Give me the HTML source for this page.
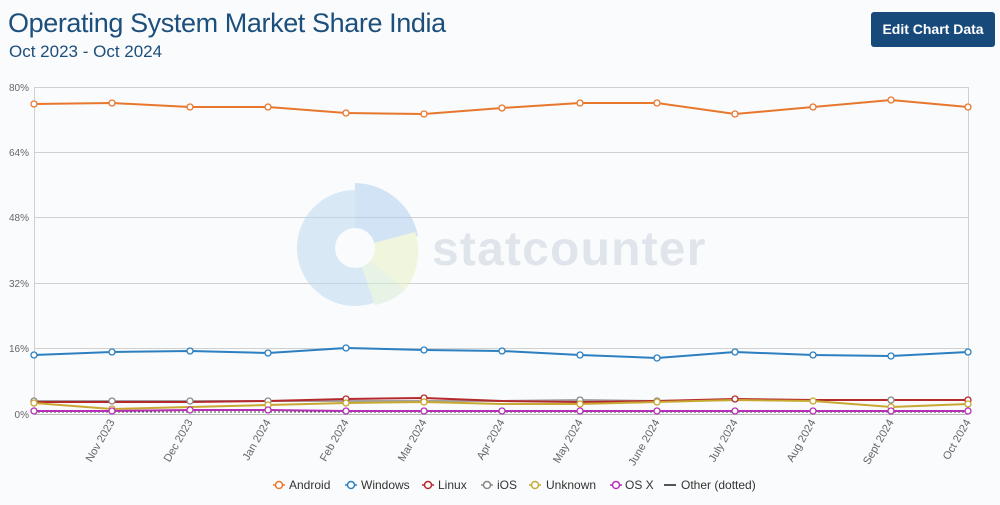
<!DOCTYPE html>
<html><head><meta charset="utf-8"><style>
html,body{margin:0;padding:0;background:#fafbfc;}
body{width:1000px;height:505px;position:relative;overflow:hidden;font-family:"Liberation Sans",sans-serif;}
.t1{position:absolute;left:8px;top:8px;font-size:27px;color:#1d4f7c;letter-spacing:-0.4px;}
.t2{position:absolute;left:9px;top:42px;font-size:17px;color:#1d4f7c;}
.btn{position:absolute;left:871px;top:12px;width:124px;height:35px;background:#174a7b;border-radius:3px;color:#fff;font-size:14px;font-weight:bold;text-align:center;line-height:35px;}
</style></head><body>
<div class="t1">Operating System Market Share India</div>
<div class="t2">Oct 2023 - Oct 2024</div>
<div class="btn">Edit Chart Data</div>
<svg width="1000" height="505" style="position:absolute;left:0;top:0" font-family="Liberation Sans, sans-serif">
<g stroke="#d0d0d0" stroke-width="1">
<line x1="34" x2="968" y1="87.5" y2="87.5"/><line x1="34" x2="968" y1="152.5" y2="152.5"/>
<line x1="34" x2="968" y1="217.5" y2="217.5"/><line x1="34" x2="968" y1="283.5" y2="283.5"/>
<line x1="34" x2="968" y1="348.5" y2="348.5"/>
<line x1="34.5" x2="34.5" y1="87" y2="414"/><line x1="968.5" x2="968.5" y1="87" y2="414"/>
</g>
<line x1="34" x2="968" y1="414.5" y2="414.5" stroke="#bbb"/>
<g fill="#666" font-size="10" text-anchor="end">
<text x="29" y="91">80%</text><text x="29" y="156">64%</text><text x="29" y="221">48%</text>
<text x="29" y="287">32%</text><text x="29" y="352">16%</text><text x="29" y="418">0%</text>
</g>
<g opacity="0.5">
<circle cx="355" cy="248" r="58" fill="#b9d6f0"/>
<path d="M355 248 L355 183 A65 65 0 0 1 418 236 Z" fill="#a9cdef"/>
<path d="M355 248 L415 232 A62 62 0 0 1 405 290 Z" fill="#e8f3c0"/>
<path d="M355 248 L405 290 A62 62 0 0 1 375 305 Z" fill="#d4ecd0"/>
<circle cx="355" cy="248" r="20" fill="#fafbfc"/>
<text x="432" y="265" font-size="48" font-weight="bold" fill="#c6d0dc" letter-spacing="1.2">statcounter</text>
</g>
<g fill="#666" font-size="11" text-anchor="end">
<text transform="translate(115,422) rotate(-60)">Nov 2023</text>
<text transform="translate(193,422) rotate(-60)">Dec 2023</text>
<text transform="translate(271,422) rotate(-60)">Jan 2024</text>
<text transform="translate(349,422) rotate(-60)">Feb 2024</text>
<text transform="translate(427,422) rotate(-60)">Mar 2024</text>
<text transform="translate(505,422) rotate(-60)">Apr 2024</text>
<text transform="translate(583,422) rotate(-60)">May 2024</text>
<text transform="translate(660,422) rotate(-60)">June 2024</text>
<text transform="translate(738,422) rotate(-60)">July 2024</text>
<text transform="translate(816,422) rotate(-60)">Aug 2024</text>
<text transform="translate(894,422) rotate(-60)">Sept 2024</text>
<text transform="translate(971,422) rotate(-60)">Oct 2024</text>
</g>
<line x1="34" x2="968" y1="412" y2="412" stroke="#444" stroke-width="1" stroke-dasharray="2,2"/>
<g fill="none" stroke-width="2">
<polyline stroke="#a0a0a0" points="34,401 112,401 190,401 268,401 346,401 424,401 502,401 580,400 657,401 735,400 813,400 891,400 968,400"/>
<polyline stroke="#b5282b" points="34,402 112,402 190,402 268,401 346,399 424,398 502,401 580,402 657,401 735,399 813,400 891,400 968,400"/>
<polyline stroke="#c9a832" points="34,403 112,409 190,407 268,405 346,403 424,402 502,404 580,404 657,402 735,400 813,401 891,407 968,404"/>
<polyline stroke="#b530b5" points="34,411 112,411 190,410 268,410 346,411 424,411 502,411 580,411 657,411 735,411 813,411 891,411 968,411"/>
<polyline stroke="#2c7fc0" points="34,355 112,352 190,351 268,353 346,348 424,350 502,351 580,355 657,358 735,352 813,355 891,356 968,352"/>
<polyline stroke="#e8772e" points="34,104 112,103 190,107 268,107 346,113 424,114 502,108 580,103 657,103 735,114 813,107 891,100 968,107"/>
</g>
<g fill="#fff" stroke-width="1.3">
<g stroke="#e8772e"><circle cx="34" cy="104" r="3"/><circle cx="112" cy="103" r="3"/><circle cx="190" cy="107" r="3"/><circle cx="268" cy="107" r="3"/><circle cx="346" cy="113" r="3"/><circle cx="424" cy="114" r="3"/><circle cx="502" cy="108" r="3"/><circle cx="580" cy="103" r="3"/><circle cx="657" cy="103" r="3"/><circle cx="735" cy="114" r="3"/><circle cx="813" cy="107" r="3"/><circle cx="891" cy="100" r="3"/><circle cx="968" cy="107" r="3"/></g>
<g stroke="#2c7fc0"><circle cx="34" cy="355" r="3"/><circle cx="112" cy="352" r="3"/><circle cx="190" cy="351" r="3"/><circle cx="268" cy="353" r="3"/><circle cx="346" cy="348" r="3"/><circle cx="424" cy="350" r="3"/><circle cx="502" cy="351" r="3"/><circle cx="580" cy="355" r="3"/><circle cx="657" cy="358" r="3"/><circle cx="735" cy="352" r="3"/><circle cx="813" cy="355" r="3"/><circle cx="891" cy="356" r="3"/><circle cx="968" cy="352" r="3"/></g>
<g stroke="#888"><circle cx="34" cy="401" r="3"/><circle cx="112" cy="401" r="3"/><circle cx="190" cy="401" r="3"/><circle cx="268" cy="401" r="3"/><circle cx="580" cy="400" r="3"/><circle cx="657" cy="401" r="3"/><circle cx="891" cy="400" r="3"/></g>
<g stroke="#b5282b"><circle cx="346" cy="399" r="3"/><circle cx="424" cy="398" r="3"/><circle cx="735" cy="399" r="3"/><circle cx="968" cy="400" r="3"/></g>
<g stroke="#c9a832"><circle cx="34" cy="403" r="3"/><circle cx="112" cy="409" r="3"/><circle cx="268" cy="405" r="3"/><circle cx="346" cy="403" r="3"/><circle cx="424" cy="402" r="3"/><circle cx="580" cy="404" r="3"/><circle cx="657" cy="402" r="3"/><circle cx="813" cy="401" r="3"/><circle cx="891" cy="407" r="3"/><circle cx="968" cy="404" r="3"/></g>
<g stroke="#b530b5"><circle cx="34" cy="411" r="3"/><circle cx="112" cy="411" r="3"/><circle cx="190" cy="410" r="3"/><circle cx="268" cy="410" r="3"/><circle cx="346" cy="411" r="3"/><circle cx="424" cy="411" r="3"/><circle cx="502" cy="411" r="3"/><circle cx="580" cy="411" r="3"/><circle cx="657" cy="411" r="3"/><circle cx="735" cy="411" r="3"/><circle cx="813" cy="411" r="3"/><circle cx="891" cy="411" r="3"/><circle cx="968" cy="411" r="3"/></g>
</g>
<g font-size="12" fill="#333">
<g fill="#fff" stroke-width="1.5">
<line x1="273" x2="285" y1="485" y2="485" stroke="#e8772e"/><circle cx="279" cy="485" r="3.5" stroke="#e8772e"/>
<line x1="345" x2="357" y1="485" y2="485" stroke="#2c7fc0"/><circle cx="351" cy="485" r="3.5" stroke="#2c7fc0"/>
<line x1="422" x2="434" y1="485" y2="485" stroke="#b5282b"/><circle cx="428" cy="485" r="3.5" stroke="#b5282b"/>
<line x1="481" x2="493" y1="485" y2="485" stroke="#888"/><circle cx="487" cy="485" r="3.5" stroke="#888"/>
<line x1="529" x2="541" y1="485" y2="485" stroke="#c9a832"/><circle cx="535" cy="485" r="3.5" stroke="#c9a832"/>
<line x1="610" x2="622" y1="485" y2="485" stroke="#b530b5"/><circle cx="616" cy="485" r="3.5" stroke="#b530b5"/>
<line x1="664" x2="676" y1="485" y2="485" stroke="#555" stroke-width="2"/>
</g>
<text x="289" y="489">Android</text><text x="361" y="489">Windows</text><text x="438" y="489">Linux</text>
<text x="497" y="489">iOS</text><text x="546" y="489">Unknown</text><text x="625" y="489">OS X</text>
<text x="681" y="489">Other (dotted)</text>
</g>
</svg>
</body></html>
